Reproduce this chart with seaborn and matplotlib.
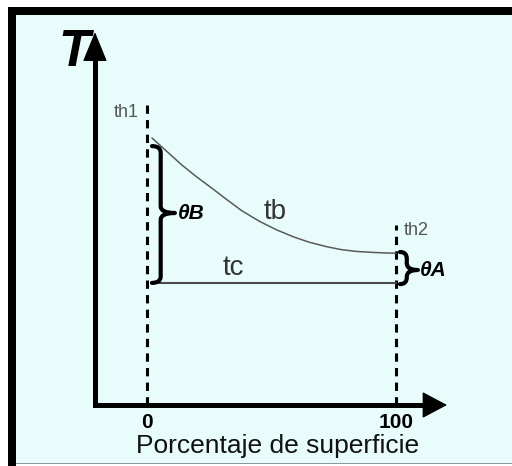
import numpy as np
import pandas as pd
import seaborn as sns
import matplotlib.pyplot as plt
from matplotlib.patches import Rectangle, PathPatch, FancyArrowPatch, ArrowStyle
from matplotlib.path import Path

# curve tb (temperature vs percentage of surface) and flat tc line
superficie = [2, 8, 14, 20, 26, 32, 38, 45, 52, 59, 65, 72, 78, 84, 90, 95, 100]
tb = [89, 84.5, 80, 76, 72.3, 68.5, 64.8, 61.3, 58.4, 56, 54.3, 52.8, 51.8, 51.2,
      50.9, 50.7, 50.6]
tc = 40.7
th1_x, th2_x = 0, 100
tick_labels = ['0', '100']

sns.set_style('white')
plt.rcParams['font.family'] = ['Liberation Sans', 'DejaVu Sans']
plt.rcParams['lines.scale_dashes'] = False
plt.rcParams['text.color'] = 'black'

fig = plt.figure(figsize=(5.12, 4.66), dpi=100, facecolor='white')
ax = fig.add_axes([0, 0, 1, 1])
ax.set_xlim(-59.04, 146.59)
ax.set_ylim(-20.33, 135)
ax.axis('off')

# frame and background
W, H = 512, 466
ax.add_patch(Rectangle((16 / W, 3 / H), 496 / W, 448 / H, transform=ax.transAxes,
                       facecolor='#e8fcfc', edgecolor='none', zorder=0))
ax.add_patch(Rectangle((8 / W, 451 / H), 504 / W, 8 / H, transform=ax.transAxes,
                       facecolor='black', edgecolor='none', zorder=0))
ax.add_patch(Rectangle((8 / W, 0), 8 / W, 459 / H, transform=ax.transAxes,
                       facecolor='black', edgecolor='none', zorder=0))
ax.add_patch(Rectangle((16 / W, 2 / H), 496 / W, 1.5 / H, transform=ax.transAxes,
                       facecolor='#8a9a9a', edgecolor='none', zorder=0))

# axes with arrows
x0 = -20.9
ax.plot([x0, x0, 112], [116, 0, 0], color='black', lw=3.6,
        solid_joinstyle='miter', solid_capstyle='butt', zorder=3)
ax.add_patch(FancyArrowPatch((x0, 110), (x0, 124.3),
                             arrowstyle=ArrowStyle('-|>', head_length=1.9, head_width=0.78),
                             mutation_scale=10, lw=1, color='black',
                             shrinkA=0, shrinkB=0, zorder=3))
ax.add_patch(FancyArrowPatch((105, 0), (120.5, 0),
                             arrowstyle=ArrowStyle('-|>', head_length=1.6, head_width=0.85),
                             mutation_scale=10, lw=1, color='black',
                             shrinkA=0, shrinkB=0, zorder=3))

# dashed verticals
ax.plot([th1_x, th1_x], [0, 100.7], color='black', lw=2.2, dashes=(6, 4.5), zorder=2)
ax.plot([th2_x, th2_x], [0, 60], color='black', lw=2.2, dashes=(6, 4.5), zorder=2)

# curves
sns.lineplot(x=superficie, y=tb, color='#5a5a5a', lw=1.1, ax=ax, zorder=4)
sns.lineplot(x=[th1_x + 2, th2_x], y=[tc, tc], color='#4a4a4a', lw=1.5, ax=ax, zorder=4)


def brace(ax, xl, y_bot, y_top, w, y_mid=None, r=2.2):
    if y_mid is None:
        y_mid = (y_bot + y_top) / 2
    xv = xl + 0.38 * w
    xt = xl + w
    verts = [(xl, y_top), (xv, y_top), (xv, y_top - r),
             (xv, y_mid + r), (xv, y_mid), (xt, y_mid),
             (xv, y_mid), (xv, y_mid - r),
             (xv, y_bot + r), (xv, y_bot), (xl, y_bot)]
    codes = [Path.MOVETO, Path.CURVE3, Path.CURVE3,
             Path.LINETO, Path.CURVE3, Path.CURVE3,
             Path.CURVE3, Path.CURVE3,
             Path.LINETO, Path.CURVE3, Path.CURVE3]
    ax.add_patch(PathPatch(Path(verts, codes), fill=False, lw=3, color='black',
                           capstyle='round', joinstyle='round', zorder=5))


brace(ax, 2.0, tc, tb[0] - 2.7, 9.2, y_mid=64)
brace(ax, 101.6, tc - 0.4, tb[-1] + 0.4, 7.2, y_mid=45)

# labels
narrow = ['Liberation Sans Narrow', 'Liberation Sans']
ax.text(-29.5, 117.5, 'T', fontsize=37, fontweight='bold', fontstyle='italic',
        family=narrow, ha='center', va='center', color='black')
ax.text(-3.5, 97.5, 'th1', fontsize=13, color='#555555', family=narrow,
        ha='right', va='center')
ax.text(103.3, 58.3, 'th2', fontsize=13, color='#555555', family=narrow,
        ha='left', va='center')
ax.text(51.4, 64.5, 'tb', fontsize=20, color='#333333', ha='center', va='center')
ax.text(34.5, 45.7, 'tc', fontsize=20, color='#333333', ha='center', va='center')
ax.text(12.5, 64, 'θB', fontsize=15, fontweight='bold', fontstyle='italic',
        ha='left', va='center', color='black')
ax.text(109.5, 45, 'θA', fontsize=15, fontweight='bold', fontstyle='italic',
        ha='left', va='center', color='black')
for xv, lab in zip([th1_x, th2_x], tick_labels):
    ax.text(xv, -5.8, lab, fontsize=15, fontweight='bold', ha='center', va='center',
            color='black')
ax.text(52.4, -13.8, 'Porcentaje de superficie', fontsize=19, ha='center', va='center',
        color='#111111')

fig.savefig('out.png', dpi=100, facecolor='white')
